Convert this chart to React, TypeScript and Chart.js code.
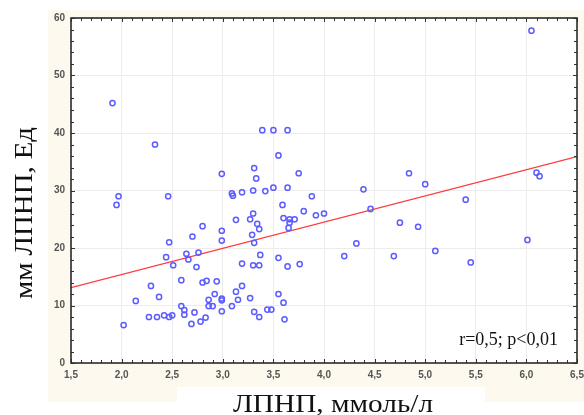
import React, { useEffect, useRef } from "react";
import { Chart, registerables } from "chart.js";

Chart.register(...registerables);

// Scatter data: LDL (mmol/l) vs oxidized LDL (U)
const xValues = [
  1.91, 2.33, 2.99, 3.31, 3.33, 3.39, 3.50, 3.64, 3.55, 3.75,
  6.05, 4.84, 6.10, 6.13, 1.97, 1.95, 2.46, 3.09, 3.10, 3.19,
  3.30, 3.42, 3.50, 3.64, 3.88, 3.59, 3.80, 3.92, 3.13, 3.27,
  3.30, 3.34, 3.36, 3.60, 3.66, 3.71, 3.66, 3.65, 2.80, 2.99,
  2.99, 2.70, 2.47, 3.29, 3.31, 3.37, 3.55, 3.19, 3.30, 3.36,
  3.64, 3.76, 2.64, 2.76, 2.44, 2.66, 2.51, 2.74, 2.59, 2.80,
  2.84, 2.94, 2.29, 3.19, 3.13, 2.92, 2.37, 3.27, 3.55, 2.86,
  2.99, 2.99, 3.15, 3.60, 2.14, 2.59, 2.86, 2.90, 3.09, 2.62,
  2.62, 2.72, 2.99, 3.31, 3.36, 3.44, 3.48, 3.61, 2.27, 2.35,
  2.42, 2.47, 2.50, 2.69, 2.78, 2.83, 2.02, 5.00, 4.39, 4.00,
  4.46, 5.40, 4.75, 4.93, 4.32, 4.20, 4.69, 5.10, 5.45, 6.01,
];
const yValues = [
  45.2, 38.0, 32.9, 33.9, 32.1, 40.5, 40.5, 40.5, 36.1, 33.0,
  57.8, 33.0, 33.1, 32.5, 29.0, 27.5, 29.0, 29.5, 29.1, 29.7,
  30.0, 29.9, 30.5, 30.5, 29.0, 27.5, 26.4, 25.7, 24.9, 25.0,
  26.0, 24.2, 23.3, 25.2, 25.0, 25.0, 24.4, 23.5, 23.8, 23.0,
  21.3, 22.0, 21.0, 22.3, 20.9, 18.8, 18.3, 17.3, 17.0, 17.0,
  16.8, 17.2, 19.0, 19.2, 18.4, 18.0, 17.0, 16.7, 14.4, 14.0,
  14.3, 14.2, 13.4, 13.4, 12.4, 12.0, 11.5, 11.3, 12.0, 11.0,
  11.2, 10.9, 11.0, 10.5, 10.8, 9.9, 9.9, 9.9, 9.9, 9.2,
  8.4, 8.8, 9.0, 8.9, 8.0, 9.3, 9.3, 7.6, 8.0, 8.0,
  8.3, 8.0, 8.3, 6.8, 7.2, 7.9, 6.6, 31.1, 30.2, 26.0,
  26.8, 28.4, 24.4, 23.7, 20.8, 18.6, 18.6, 19.5, 17.5, 21.4,
];

// Regression line end points
const fitX = [1.5, 6.5];
const fitY = [13.1, 35.9];

const xTitle = "ЛПНП, ммоль/л";
const yTitle = "мм ЛПНП, Ед";
const statText = "r=0,5; p<0,01";

const X_MIN = 1.5, X_MAX = 6.5, X_STEP = 0.5;
const Y_MIN = 0, Y_MAX = 60, Y_STEP = 10;

const SERIF = '"Liberation Serif", "Times New Roman", serif';

function stretchedText(ctx: CanvasRenderingContext2D, text: string, x: number, y: number, targetW: number) {
  const w = ctx.measureText(text).width;
  const k = targetW / w;
  ctx.save();
  ctx.translate(x, y);
  ctx.scale(k, 1);
  ctx.textAlign = "center";
  ctx.fillText(text, 0, 0);
  ctx.restore();
}

const decorPlugin = {
  id: "decor",
  beforeDraw(chart: any) {
    const { ctx, chartArea: a, width, height } = chart;
    ctx.save();
    ctx.fillStyle = "#ffffff";
    ctx.fillRect(0, 0, width, height);
    ctx.fillStyle = "#fdf9ef";
    ctx.fillRect(48, 10, width - 48, 392);
    ctx.fillStyle = "#ffffff";
    ctx.fillRect(177, 387, 308, height - 387);
    ctx.fillRect(a.left, a.top, a.right - a.left, a.bottom - a.top);
    ctx.restore();
  },
  afterDraw(chart: any) {
    const { ctx, chartArea: a, scales } = chart;
    const xs = scales.x, ys = scales.y;
    ctx.save();
    ctx.strokeStyle = "#333333";
    ctx.lineWidth = 1;
    ctx.beginPath();
    const xMinor = X_STEP / 5;
    for (let i = 0; i <= Math.round((X_MAX - X_MIN) / xMinor); i++) {
      const v = X_MIN + i * xMinor;
      const px = Math.round(xs.getPixelForValue(v)) + 0.5;
      const len = i % 5 === 0 ? 4 : 3;
      ctx.moveTo(px, a.bottom);
      ctx.lineTo(px, a.bottom - len);
      ctx.moveTo(px, a.top);
      ctx.lineTo(px, a.top + len);
    }
    const yMinor = Y_STEP / 5;
    for (let i = 0; i <= Math.round((Y_MAX - Y_MIN) / yMinor); i++) {
      const v = Y_MIN + i * yMinor;
      const py = Math.round(ys.getPixelForValue(v)) + 0.5;
      const len = i % 5 === 0 ? 4 : 3;
      ctx.moveTo(a.left, py);
      ctx.lineTo(a.left + len, py);
      ctx.moveTo(a.right, py);
      ctx.lineTo(a.right - len, py);
    }
    ctx.stroke();
    ctx.lineWidth = 1.6;
    ctx.strokeStyle = "#2b2b2b";
    ctx.strokeRect(a.left, a.top, a.right - a.left, a.bottom - a.top);
    // stat annotation
    ctx.fillStyle = "#111111";
    ctx.font = "18px " + SERIF;
    ctx.textAlign = "right";
    ctx.textBaseline = "middle";
    ctx.fillText(statText, a.right - 19, a.bottom - 23);
    // axis titles
    ctx.font = "26px " + SERIF;
    ctx.textBaseline = "alphabetic";
    stretchedText(ctx, xTitle, 333, 412, 200);
    ctx.save();
    ctx.translate(32, 213);
    ctx.rotate(-Math.PI / 2);
    stretchedText(ctx, yTitle, 0, 0, 172);
    ctx.restore();
    ctx.restore();
  },
};

export default function App() {
  const ref = useRef<HTMLCanvasElement | null>(null);
  useEffect(() => {
    document.body.style.margin = "0";
    const canvas = ref.current!;
    const points = xValues.map((x, i) => ({ x, y: yValues[i] }));
    const line = fitX.map((x, i) => ({ x, y: fitY[i] }));
    const tickFont = { family: '"Liberation Sans", Arial, sans-serif', size: 10, weight: "bold" as const };
    const chart = new Chart(canvas, {
      type: "scatter",
      data: {
        datasets: [
          {
            type: "line",
            data: line,
            borderColor: "#ff3b3b",
            borderWidth: 1.3,
            pointRadius: 0,
            fill: false,
            order: 1,
          } as any,
          {
            data: points,
            pointRadius: 2.6,
            pointBorderWidth: 1.5,
            borderColor: "#5c5cff",
            backgroundColor: "rgba(0,0,0,0)",
            order: 0,
          },
        ],
      },
      options: {
        animation: false,
        responsive: false,
        devicePixelRatio: 1,
        layout: { padding: { top: 18, right: 7, left: 0, bottom: 0 } },
        plugins: { legend: { display: false }, tooltip: { enabled: false } },
        scales: {
          x: {
            type: "linear",
            min: X_MIN,
            max: X_MAX,
            afterFit: (s: any) => { s.height = 52; s.paddingLeft = 0; s.paddingRight = 0; },
            ticks: {
              stepSize: X_STEP,
              padding: 6,
              color: "#555555",
              font: tickFont,
              maxRotation: 0,
              autoSkip: false,
              callback: (v: any) => Number(v).toFixed(1).replace(".", ","),
            },
            grid: { color: "#ececec", lineWidth: 1, drawTicks: false },
            border: { display: false },
          },
          y: {
            type: "linear",
            min: Y_MIN,
            max: Y_MAX,
            afterFit: (s: any) => { s.width = 71; s.paddingTop = 0; s.paddingBottom = 0; },
            ticks: {
              stepSize: Y_STEP,
              padding: 6,
              color: "#555555",
              font: tickFont,
              autoSkip: false,
            },
            grid: { color: "#ececec", lineWidth: 1, drawTicks: false },
            border: { display: false },
          },
        },
      },
      plugins: [decorPlugin],
    });
    return () => chart.destroy();
  }, []);
  return (
    <div style={{ width: 584, height: 415 }}>
      <canvas ref={ref} width={584} height={415} style={{ display: "block" }} />
    </div>
  );
}
